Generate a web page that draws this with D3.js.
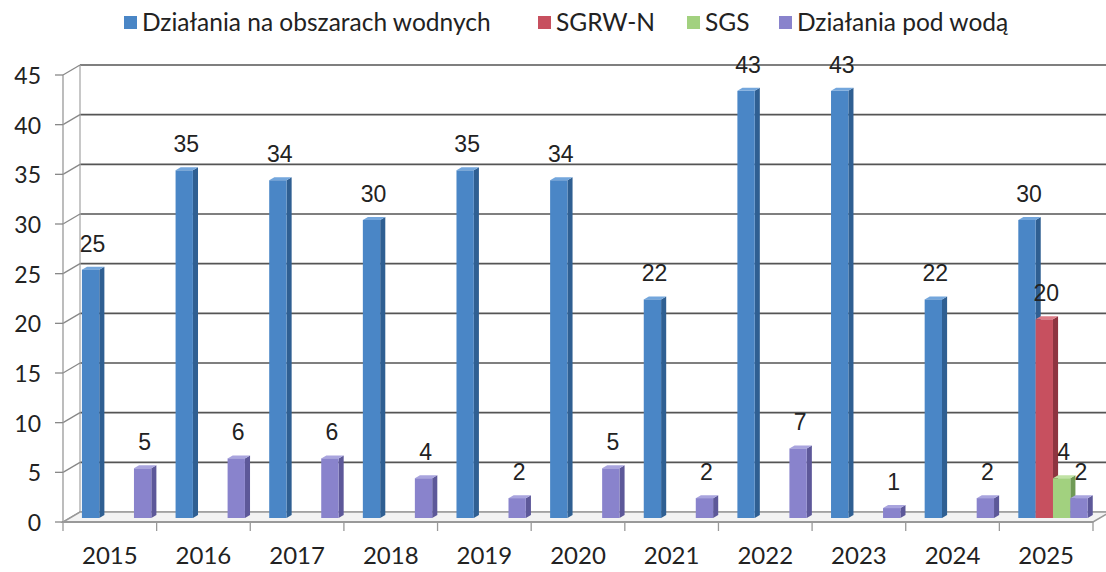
<!DOCTYPE html>
<html>
<head>
<meta charset="utf-8">
<script src="https://cdn.jsdelivr.net/npm/d3@7"></script>
<style>
  body { margin: 0; background: #fff; }
  text { fill: #222; }
</style>
</head>
<body>
<script>
// chart values
var years = ["2015", "2016", "2017", "2018", "2019", "2020", "2021", "2022", "2023", "2024", "2025"];
var seriesNames = ["Działania na obszarach wodnych", "SGRW-N", "SGS", "Działania pod wodą"];
var wodne = [25, 35, 34, 30, 35, 34, 22, 43, 43, 22, 30];
var sgrwn = [0, 0, 0, 0, 0, 0, 0, 0, 0, 0, 20];
var sgs = [0, 0, 0, 0, 0, 0, 0, 0, 0, 0, 4];
var podWoda = [5, 6, 6, 4, 2, 5, 2, 7, 1, 2, 2];
var yTicks = [0, 5, 10, 15, 20, 25, 30, 35, 40, 45];

var colors = [
  {front: "#4a86c6", top: "#73a6dc", side: "#2f5f92"},
  {front: "#c7505f", top: "#dc7b86", side: "#8e3440"},
  {front: "#a2d17f", top: "#c0e2a4", side: "#6f9a55"},
  {front: "#8983cc", top: "#a9a4de", side: "#5d5899"}
];

var w = 1106, h = 572;
var x0 = 63, x1 = 1093;
var dx = 17, dy = -10;       // depth of the box (front -> back wall)
var zFront = 0.4, zBack = 0.7; // bar depth position

var svg = d3.select("body").append("svg")
  .attr("width", w)
  .attr("height", h);

var x = d3.scaleBand().domain(years).range([x0, x1]).padding(0);
var xs = d3.scaleBand().domain(d3.range(4)).range([0, x.bandwidth()])
  .paddingInner(0).paddingOuter(0.7);
var y = d3.scaleLinear().domain([0, 45]).range([522, 75]);

// back wall grid
svg.append("g").selectAll("line")
  .data(yTicks)
  .enter().append("line")
  .attr("x1", x0 + dx).attr("x2", w + 5)
  .attr("y1", function(d) { return y(d) + dy; })
  .attr("y2", function(d) { return y(d) + dy; })
  .attr("stroke", function(d) { return d === 0 ? "#aaa" : "#555"; })
  .attr("stroke-width", 1.6);

// side wall
svg.append("line")
  .attr("x1", x0 + dx).attr("x2", x0 + dx)
  .attr("y1", y(45) + dy).attr("y2", y(0) + dy)
  .attr("stroke", "#aaa").attr("stroke-width", 1.3);
svg.append("g").selectAll("line")
  .data(yTicks)
  .enter().append("line")
  .attr("x1", x0).attr("x2", x0 + dx)
  .attr("y1", function(d) { return y(d); })
  .attr("y2", function(d) { return y(d) + dy; })
  .attr("stroke", "#888").attr("stroke-width", 1.3);

// floor
svg.append("path")
  .attr("d", "M" + x0 + "," + y(0) + "L" + x1 + "," + y(0) +
    "L" + (x1 + dx) + "," + (y(0) + dy) + "L" + (x0 + dx) + "," + (y(0) + dy) + "Z")
  .attr("fill", "#f3f3f3")
  .attr("stroke", "#999")
  .attr("stroke-width", 1.5);

// bars
var bars = [];
var allSeries = [wodne, sgrwn, sgs, podWoda];
years.forEach(function(yr, i) {
  allSeries.forEach(function(vals, s) {
    if (vals[i] > 0) bars.push({year: yr, s: s, v: vals[i]});
  });
});

var bx = function(d) { return x(d.year) + xs(d.s) + zFront * dx; };
var bw = xs.bandwidth();
var ddx = (zBack - zFront) * dx, ddy = (zBack - zFront) * dy;
var base = y(0) + zFront * dy;

var g = svg.append("g").selectAll("g")
  .data(bars)
  .enter().append("g");

g.append("path")  // side
  .attr("d", function(d) {
    var l = bx(d) + bw, t = y(d.v) + zFront * dy;
    return "M" + l + "," + t + "L" + (l + ddx) + "," + (t + ddy) +
      "L" + (l + ddx) + "," + (base + ddy) + "L" + l + "," + base + "Z";
  })
  .attr("fill", function(d) { return colors[d.s].side; });

g.append("path")  // top
  .attr("d", function(d) {
    var l = bx(d), t = y(d.v) + zFront * dy;
    return "M" + l + "," + t + "L" + (l + bw) + "," + t +
      "L" + (l + bw + ddx) + "," + (t + ddy) + "L" + (l + ddx) + "," + (t + ddy) + "Z";
  })
  .attr("fill", function(d) { return colors[d.s].top; });

g.append("rect")  // front
  .attr("x", bx)
  .attr("y", function(d) { return y(d.v) + zFront * dy; })
  .attr("width", bw)
  .attr("height", function(d) { return base - (y(d.v) + zFront * dy); })
  .attr("fill", function(d) { return colors[d.s].front; });

// value labels
svg.append("g").selectAll("text")
  .data(bars)
  .enter().append("text")
  .attr("x", function(d) { return bx(d) + bw / 2 + 2; })
  .attr("y", function(d) { return y(d.v) + zFront * dy - 18; })
  .attr("text-anchor", "middle")
  .style("font-family", "'Liberation Sans', Arial, sans-serif")
  .style("font-size", "23px")
  .text(function(d) { return d.v; });

// y axis
svg.append("line")
  .attr("x1", x0).attr("x2", x0)
  .attr("y1", y(45)).attr("y2", y(0))
  .attr("stroke", "#999").attr("stroke-width", 1.3);
svg.append("g").selectAll("line")
  .data(yTicks)
  .enter().append("line")
  .attr("x1", x0 - 8).attr("x2", x0)
  .attr("y1", function(d) { return y(d); })
  .attr("y2", function(d) { return y(d); })
  .attr("stroke", "#888").attr("stroke-width", 1.3);
svg.append("g").selectAll("text")
  .data(yTicks)
  .enter().append("text")
  .attr("x", 41)
  .attr("y", function(d) { return y(d) + 9; })
  .attr("text-anchor", "end")
  .style("font-family", "Lato, sans-serif")
  .style("font-size", "23px")
  .text(function(d) { return d; });

// x axis
svg.append("line")
  .attr("x1", x0).attr("x2", x1)
  .attr("y1", y(0)).attr("y2", y(0))
  .attr("stroke", "#999").attr("stroke-width", 2);
svg.append("g").selectAll("line")
  .data(d3.range(years.length + 1))
  .enter().append("line")
  .attr("x1", function(i) { return x0 + i * x.step(); })
  .attr("x2", function(i) { return x0 + i * x.step(); })
  .attr("y1", y(0)).attr("y2", y(0) + 9)
  .attr("stroke", "#999").attr("stroke-width", 1.3);
svg.append("g").selectAll("text")
  .data(years)
  .enter().append("text")
  .attr("x", function(d) { return x(d) + x.bandwidth() / 2; })
  .attr("y", 564)
  .attr("text-anchor", "middle")
  .style("font-family", "Lato, sans-serif")
  .style("font-size", "24px")
  .text(function(d) { return d; });

// legend
var legendX = [124, 538, 687, 779];
var lg = svg.append("g").selectAll("g")
  .data(seriesNames)
  .enter().append("g")
  .attr("transform", function(d, i) { return "translate(" + legendX[i] + ",0)"; });
lg.append("rect")
  .attr("x", 0).attr("y", 16)
  .attr("width", 13).attr("height", 13)
  .attr("fill", function(d, i) { return colors[i].front; });
lg.append("text")
  .attr("x", 18).attr("y", 31)
  .style("font-family", "Lato, sans-serif")
  .style("font-size", "24.5px")
  .text(function(d) { return d; });
</script>
</body>
</html>
